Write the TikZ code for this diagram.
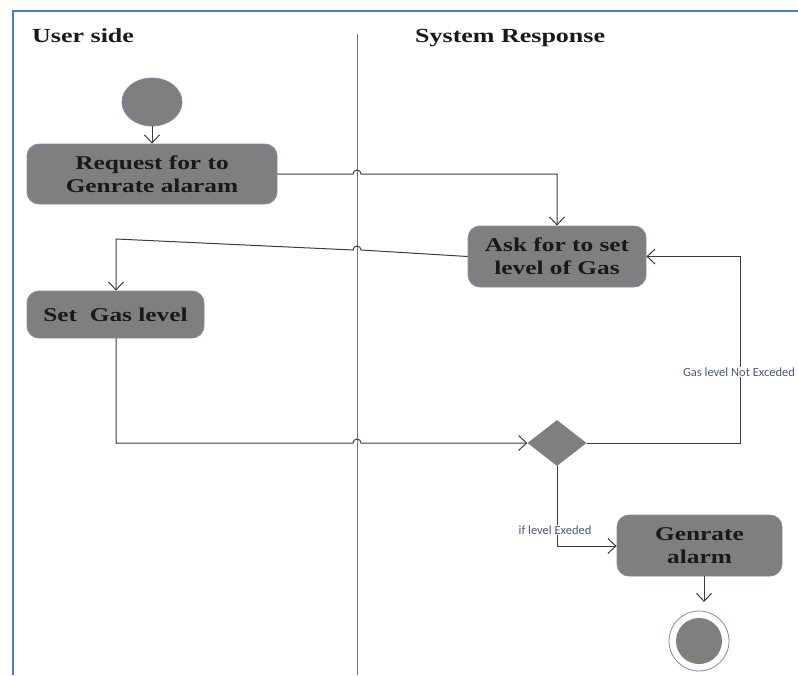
\documentclass[tikz,border=0pt]{standalone}
\usepackage{fontspec}
\usetikzlibrary{arrows.meta,shapes.geometric,calc}
\newfontfamily\boxfont[FakeStretch=1.3]{Liberation Serif}
\newfontfamily\labfont{Carlito}
\definecolor{actfill}{HTML}{7F7F7F}
\definecolor{actedge}{HTML}{8585B0}
\definecolor{lanecol}{HTML}{6E6E9E}
\definecolor{framecol}{HTML}{4A7BD0}
\definecolor{wirecol}{HTML}{3C3C3C}
\definecolor{labcol}{HTML}{4A5878}
\tikzset{
  act/.style={draw=actedge, line width=0.8pt, fill=actfill, rounded corners=12pt,
    font=\boxfont\bfseries\fontsize{19.5}{23}\selectfont, text=black!90, align=center,
    inner sep=0pt},
  wire/.style={draw=wirecol, line width=1pt},
  arr/.style={wire, -{Straight Barb[length=8pt,width=15pt]}},
  lab/.style={font=\labfont\fontsize{12.5}{14}\selectfont, text=labcol, fill=white, inner sep=0.5pt},
  lanetitle/.style={font=\boxfont\bfseries\fontsize{20}{24}\selectfont, text=black!90, anchor=west, inner sep=0pt},
}
\begin{document}
\begin{tikzpicture}[x=1pt,y=-1pt]
\useasboundingbox (0,0) rectangle (798,675);
% frame
\draw[framecol, line width=1.6pt] (13,675) -- (13,11) -- (798,11);
% lane divider
\draw[lanecol, line width=1pt] (357,34) -- (357,675);
% lane titles
\node[lanetitle] (t1) at (32,36) {User side};
\node[lanetitle] (t2) at (415,38) {System Response};
% nodes
\node[ellipse, draw=actedge, fill=actfill, line width=0.8pt, minimum width=60pt, minimum height=48pt] (start) at (152,102) {};
\node[act, minimum width=250pt, minimum height=60pt] (req) at (152,174) {Request for to\\Genrate alaram};
\node[act, minimum width=178pt, minimum height=61pt] (ask) at (557,256.5) {Ask for to set\\level of Gas};
\node[act, minimum width=177pt, minimum height=47pt] (setg) at (115.5,314.5) {Set\ \ Gas level};
\node[diamond, fill=actfill, inner sep=0pt, minimum width=59pt, minimum height=46pt] (dec) at (557,443) {};
\node[act, minimum width=165pt, minimum height=61pt] (gen) at (699.5,545.5) {Genrate\\alarm};
\node[circle, draw=actedge, fill=white, line width=0.8pt, minimum size=60pt, inner sep=0pt] (endo) at (699,641) {};
\node[circle, fill=actfill, minimum size=46pt, inner sep=0pt] (endi) at (699,641) {};
% corner coordinates
\coordinate (c1) at (557,174);
\coordinate (c2) at (116,239);
\coordinate (c3) at (116,443);
\coordinate (c4) at (740,443);
\coordinate (c5) at (740,256.5);
\coordinate (c6) at (557,546);
% connectors
\draw[arr] (start) -- (req);
\draw[arr] (req.east) -- (353,174) arc[start angle=180, end angle=360, radius=4] -- (c1) -- (ask.north);
\draw[arr] (ask.west) -- (361,250) arc[start angle=0, end angle=-180, radius=4] -- (c2) -- (setg.north -| c2);
\draw[arr] (setg.south -| c3) -- (c3) -- (353,443) arc[start angle=180, end angle=360, radius=4] -- (dec.west);
\draw[arr] (dec.east) -- (c4) -- (c5) -- (ask.east);
\draw[arr] (dec.south) -- (c6) -- (gen.west |- c6);
\draw[arr, shorten >=9pt] (gen.south -| 704,0) -- (704,611);
% labels
\node[lab] (l1) at (739,372) {Gas level Not Exceded};
\node[lab] (l2) at (555,530) {if level Exeded};
\end{tikzpicture}
\end{document}
